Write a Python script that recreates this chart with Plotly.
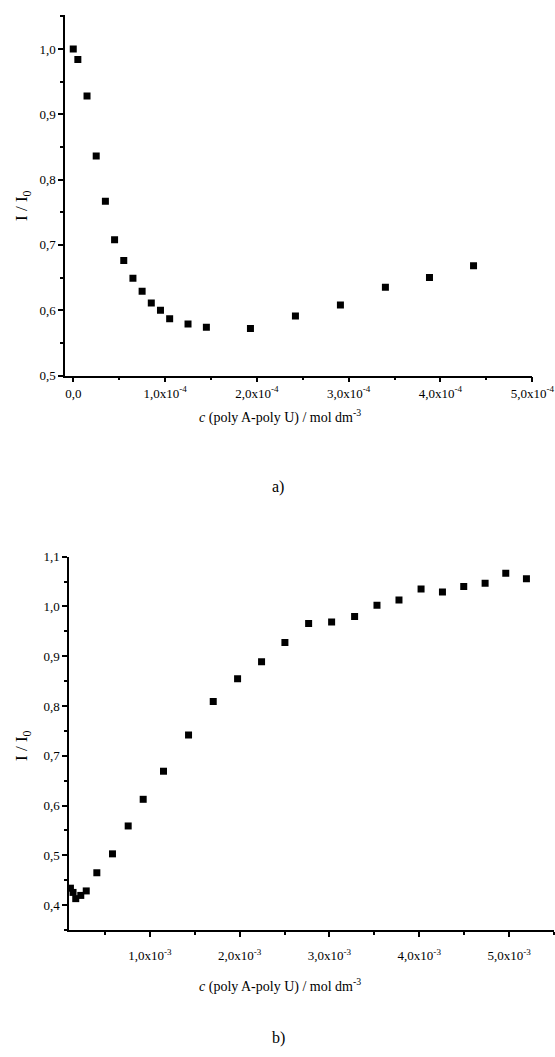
import plotly.graph_objects as go

# ---- data ----
# panel a)
top_x = [0.0, 0.05e-4, 0.15e-4, 0.25e-4, 0.35e-4, 0.45e-4, 0.55e-4, 0.65e-4, 0.75e-4,
         0.85e-4, 0.95e-4, 1.05e-4, 1.25e-4, 1.45e-4, 1.93e-4, 2.42e-4, 2.91e-4,
         3.40e-4, 3.88e-4, 4.36e-4]
top_y = [1.000, 0.984, 0.928, 0.836, 0.767, 0.708, 0.676, 0.649, 0.629, 0.611, 0.600,
         0.587, 0.579, 0.574, 0.572, 0.591, 0.608, 0.635, 0.650, 0.668]

# panel b)
bot_x = [0.116e-3, 0.145e-3, 0.175e-3, 0.231e-3, 0.292e-3, 0.410e-3, 0.584e-3, 0.759e-3,
         0.926e-3, 1.152e-3, 1.431e-3, 1.706e-3, 1.977e-3, 2.244e-3, 2.504e-3, 2.768e-3,
         3.024e-3, 3.280e-3, 3.529e-3, 3.774e-3, 4.020e-3, 4.258e-3, 4.495e-3, 4.733e-3,
         4.963e-3, 5.193e-3]
bot_y = [0.434, 0.4255, 0.413, 0.4195, 0.4285, 0.465, 0.503, 0.559, 0.6126, 0.669, 0.742,
         0.809, 0.855, 0.889, 0.9275, 0.9656, 0.969, 0.980, 1.0025, 1.013, 1.035, 1.029,
         1.040, 1.0465, 1.067, 1.0556]

# tick labels
top_xtickvals = [0.0, 1e-4, 2e-4, 3e-4, 4e-4, 5e-4]
top_xticktext = ["0,0", "1,0x10<sup>-4</sup>", "2,0x10<sup>-4</sup>", "3,0x10<sup>-4</sup>",
                 "4,0x10<sup>-4</sup>", "5,0x10<sup>-4</sup>"]
top_ytickvals = [0.5, 0.6, 0.7, 0.8, 0.9, 1.0]
top_yticktext = ["0,5", "0,6", "0,7", "0,8", "0,9", "1,0"]

bot_xtickvals = [1e-3, 2e-3, 3e-3, 4e-3, 5e-3]
bot_xticktext = ["1,0x10<sup>-3</sup>", "2,0x10<sup>-3</sup>", "3,0x10<sup>-3</sup>",
                 "4,0x10<sup>-3</sup>", "5,0x10<sup>-3</sup>"]
bot_ytickvals = [0.4, 0.5, 0.6, 0.7, 0.8, 0.9, 1.0, 1.1]
bot_yticktext = ["0,4", "0,5", "0,6", "0,7", "0,8", "0,9", "1,0", "1,1"]

xtitle = "<i>c</i> (poly A-poly U) / mol dm<sup>-3</sup>"
ytitle = "I / I<sub>0</sub>"
panel_labels = ["a)", "b)"]

FONT = "Liberation Serif, Times New Roman, DejaVu Serif, serif"
W, H = 555, 1057

fig = go.Figure()
fig.add_trace(go.Scatter(x=top_x, y=top_y, mode="markers", xaxis="x", yaxis="y",
                         marker=dict(symbol="square", size=7, color="black"),
                         showlegend=False))
fig.add_trace(go.Scatter(x=bot_x, y=bot_y, mode="markers", xaxis="x2", yaxis="y2",
                         marker=dict(symbol="square", size=7, color="black"),
                         showlegend=False))

axis_common = dict(showline=True, linecolor="black", linewidth=1.5, showgrid=False,
                   zeroline=False, ticks="outside", ticklen=5, tickwidth=1.5,
                   tickcolor="black", tickfont=dict(family=FONT, size=13, color="black"),
                   mirror=False, automargin=False)

def minor(t0, dt):
    return dict(ticks="outside", ticklen=3, tickwidth=1.5, tickcolor="black",
                tickmode="linear", tick0=t0, dtick=dt)

def label(text, x, y, size, angle=0):
    return dict(text=text, x=x / W, y=1 - y / H, xref="paper", yref="paper",
                showarrow=False, font=dict(family=FONT, size=size, color="black"),
                xanchor="center", yanchor="middle", textangle=angle)

fig.update_layout(
    width=W, height=H,
    margin=dict(l=0, r=0, t=0, b=0),
    paper_bgcolor="white", plot_bgcolor="white",
    font=dict(family=FONT, color="black", size=13),
    xaxis=dict(domain=[65 / W, 532.3 / W], anchor="y", range=[-0.09e-4, 5.0e-4],
               tickmode="array", tickvals=top_xtickvals, ticktext=top_xticktext,
               minor=minor(0, 0.5e-4), **axis_common),
    yaxis=dict(domain=[1 - 375.5 / H, 1 - 15 / H], anchor="x", range=[0.5, 1.052],
               tickmode="array", tickvals=top_ytickvals, ticktext=top_yticktext,
               minor=minor(0.5, 0.05), **axis_common),
    xaxis2=dict(domain=[69 / W, 554 / W], anchor="y2", range=[0.1e-3, 5.5e-3],
                tickmode="array", tickvals=bot_xtickvals, ticktext=bot_xticktext,
                minor=minor(0, 0.5e-3), ticklabelstandoff=8, **axis_common),
    yaxis2=dict(domain=[1 - 930 / H, 1 - 556.7 / H], anchor="x2", range=[0.35, 1.1],
                tickmode="array", tickvals=bot_ytickvals, ticktext=bot_yticktext,
                minor=minor(0.35, 0.05), **axis_common),
    annotations=[
        label(xtitle, 280, 416, 14),
        label(xtitle, 280, 985, 14),
        label(ytitle, 23, 206, 17, -90),
        label(ytitle, 23, 746, 17, -90),
        label(panel_labels[0], 278, 487, 16),
        label(panel_labels[1], 278, 1038, 16),
    ],
)

fig.write_html("out.html", config={"displayModeBar": False},
               post_script="document.body.style.margin='0';document.body.style.overflow='hidden';")
